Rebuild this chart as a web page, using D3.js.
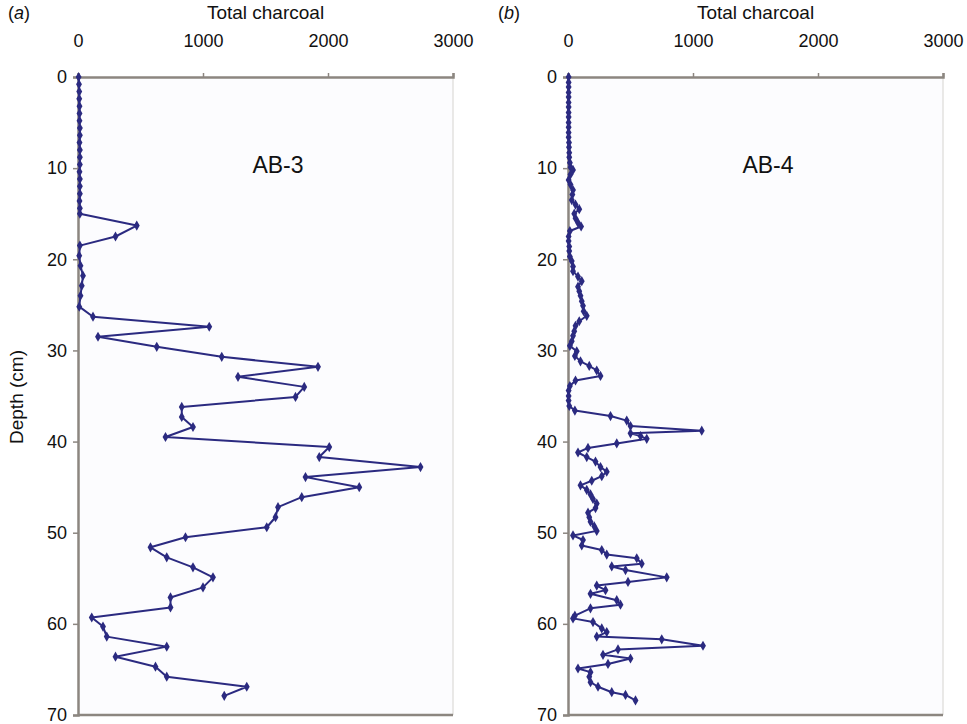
<!DOCTYPE html>
<html>
<head>
<meta charset="utf-8">
<script src="https://cdn.jsdelivr.net/npm/d3@7"></script>
<style>
  body { margin: 0; background: #fff; }
  text { font-family: "Liberation Sans", Arial, sans-serif; fill: #111; }
</style>
</head>
<body>
<svg></svg>
<script>
var width = 967;
var height = 724;

// tick labels
var xTicks = [0, 1000, 2000, 3000];
var yTicks = [0, 10, 20, 30, 40, 50, 60, 70];

// AB-3 core: depth (cm) and total charcoal
var depthA = [0, 0.8, 1.6, 2.4, 3.2, 4.0, 4.8, 5.6, 6.4, 7.2, 8.0, 8.8, 9.6, 10.4, 11.2, 12.0, 12.8, 13.6, 14.4, 15.0,
    16.3, 17.5, 18.5, 19.6, 20.7, 21.8, 22.9, 24.0, 25.2, 26.3, 27.4, 28.5, 29.6, 30.7, 31.8, 32.9, 34.0, 35.1,
    36.2, 37.3, 38.4, 39.5, 40.6, 41.7, 42.8, 43.9, 45.0, 46.1, 47.2, 48.3, 49.4, 50.5, 51.6, 52.7, 53.8, 54.9,
    56.0, 57.1, 58.2, 59.3, 60.3, 61.4, 62.5, 63.6, 64.7, 65.8, 66.9, 67.9];
var charA = [5, 8, 10, 10, 12, 12, 12, 15, 15, 12, 15, 15, 15, 12, 15, 15, 15, 12, 15, 15,
    470, 300, 15, 10, 20, 40, 30, 20, 10, 120, 1050, 160, 630, 1150, 1920, 1280, 1810, 1740,
    830, 830, 920, 700, 2010, 1930, 2740, 1820, 2250, 1790, 1600, 1580, 1510, 860, 580, 710, 920, 1080,
    1000, 740, 740, 110, 200, 230, 710, 300, 620, 710, 1350, 1170];

// AB-4 core
var depthB = [0, 0.6, 1.1, 1.7, 2.2, 2.8, 3.3, 3.9, 4.4, 5.0, 5.5, 6.1, 6.6, 7.2, 7.7, 8.3, 8.8, 9.4, 9.9,
    10.2, 10.7, 11.3, 11.8, 12.4, 12.9, 13.5, 14.0, 14.5, 15.0, 15.5, 16.0, 16.4, 16.9, 17.5, 18.0, 18.6,
    19.1, 19.7, 20.2, 20.8, 21.3, 21.9, 22.4, 23.0, 23.5, 24.0, 24.6, 25.1, 25.7, 26.2, 26.8, 27.3, 27.9,
    28.4, 29.0, 29.5, 30.1, 30.6, 31.2, 31.7, 32.2, 32.8, 33.3, 33.9, 34.4, 35.0, 35.5, 36.1, 36.6, 37.2,
    37.7, 38.3, 38.8, 39.1, 39.4, 39.7, 40.2, 40.7, 41.2, 41.7, 42.2, 42.8, 43.3, 43.8, 44.3, 44.8, 45.3,
    45.8, 46.3, 46.8, 47.3, 47.8, 48.3, 48.8, 49.3, 49.8, 50.3, 50.8, 51.4, 51.9, 52.4, 52.8, 53.4, 53.7,
    54.1, 54.9, 55.4, 55.8, 56.3, 56.7, 57.4, 57.9, 58.3, 59.1, 59.4, 59.8, 60.5, 60.9, 61.4, 61.7, 62.4,
    62.8, 63.4, 63.8, 64.4, 64.9, 65.3, 65.8, 66.4, 66.9, 67.5, 67.8, 68.4];
var charB = [5, 5, 5, 5, 5, 5, 5, 5, 5, 5, 5, 5, 5, 8, 8, 10, 10, 15, 20,
    40, 20, 5, 20, 40, 35, 30, 60, 90, 50, 60, 80, 105, 15, 5, 5, 10,
    10, 15, 30, 40, 40, 80, 110, 80, 90, 100, 110, 120, 125, 150, 90, 60, 50,
    40, 30, 15, 70, 55, 100, 170, 230, 260, 60, 15, 5, 5, 5, 10, 55, 340,
    470, 500, 1070, 500, 580, 630, 390, 160, 80, 150, 220, 260, 310, 270, 190, 100, 150,
    180, 200, 230, 220, 160, 170, 180, 210, 230, 40, 120, 110, 270, 310, 550, 590, 350,
    460, 790, 480, 230, 300, 180, 390, 420, 180, 55, 40, 200, 270, 310, 230, 750, 1080,
    400, 280, 500, 320, 80, 180, 170, 180, 240, 350, 460, 540];

var lineColor = '#2b2a80';
var axisColor = '#8c8680';

var svg = d3.select('svg')
    .attr("width", width)
    .attr("height", height);

var y = d3.scaleLinear().domain([0, 70]).range([77, 715]);

function drawPanel(x0, tag, name, depths, values) {
    var x = d3.scaleLinear().domain([0, 3000]).range([x0, x0 + 375]);
    var g = svg.append('g');

    // plot area
    g.append('rect')
        .attr("x", x(0)).attr("y", y(0))
        .attr("width", x(3000) - x(0)).attr("height", y(70) - y(0))
        .attr("fill", '#fcfcfe')
        .attr("stroke", 'none');
    g.append('line')
        .attr("x1", x(3000)).attr("x2", x(3000))
        .attr("y1", y(0)).attr("y2", y(70))
        .attr("stroke", '#d6d4d0').attr("stroke-width", 1);
    g.append('line')
        .attr("x1", x(0)).attr("x2", x(3000))
        .attr("y1", y(70)).attr("y2", y(70))
        .attr("stroke", axisColor).attr("stroke-width", 2.5);

    // top axis
    var xAxis = g.append('g')
        .attr("transform", "translate(0," + y(0) + ")")
        .call(d3.axisTop(x).tickValues(xTicks).tickSize(4).tickPadding(26).tickFormat(d3.format('d')));
    xAxis.select('.domain').attr("stroke", axisColor).attr("stroke-width", 2.5);
    xAxis.selectAll('.tick line').attr("stroke", axisColor).attr("stroke-width", 1.5);
    xAxis.selectAll('.tick text').attr("font-size", 18).attr("fill", '#111')
        .style("font-family", '"Liberation Sans", Arial, sans-serif');

    // left axis
    var yAxis = g.append('g')
        .attr("transform", "translate(" + x(0) + ",0)")
        .call(d3.axisLeft(y).tickValues(yTicks).tickSize(5).tickPadding(6));
    yAxis.select('.domain').attr("stroke", axisColor).attr("stroke-width", 2.5);
    yAxis.selectAll('.tick line').attr("stroke", axisColor).attr("stroke-width", 1.5);
    yAxis.selectAll('.tick text').attr("font-size", 18).attr("fill", '#111')
        .style("font-family", '"Liberation Sans", Arial, sans-serif');

    // titles
    g.append('text')
        .attr("x", x(1500)).attr("y", 19)
        .attr("text-anchor", 'middle')
        .attr("font-size", 19)
        .text('Total charcoal');
    var t = g.append('text')
        .attr("x", x0 - 70).attr("y", 19)
        .attr("font-size", 18);
    t.append('tspan').text('(');
    t.append('tspan').attr("font-style", 'italic').text(tag);
    t.append('tspan').text(')');
    g.append('text')
        .attr("x", x(1600)).attr("y", 173)
        .attr("text-anchor", 'middle')
        .attr("font-size", 23)
        .text(name);

    // data
    var pts = depths.map(function(d, i) { return [values[i], d]; });
    var line = d3.line()
        .x(function(d) { return x(d[0]); })
        .y(function(d) { return y(d[1]); });
    g.append('path')
        .datum(pts)
        .attr("d", line)
        .attr("fill", 'none')
        .attr("stroke", lineColor)
        .attr("stroke-width", 2)
        .attr("stroke-linejoin", 'round');
    g.append('g').selectAll('path')
        .data(pts)
        .enter().append('path')
        .attr("d", d3.symbol().type(d3.symbolDiamond).size(30))
        .attr("transform", function(d) { return "translate(" + x(d[0]) + "," + y(d[1]) + ")"; })
        .attr("fill", lineColor);
}

drawPanel(78, 'a', 'AB-3', depthA, charA);
drawPanel(568, 'b', 'AB-4', depthB, charB);

svg.append('text')
    .attr("transform", "translate(23,397) rotate(-90)")
    .attr("text-anchor", 'middle')
    .attr("font-size", 19)
    .text('Depth (cm)');
</script>
</body>
</html>
